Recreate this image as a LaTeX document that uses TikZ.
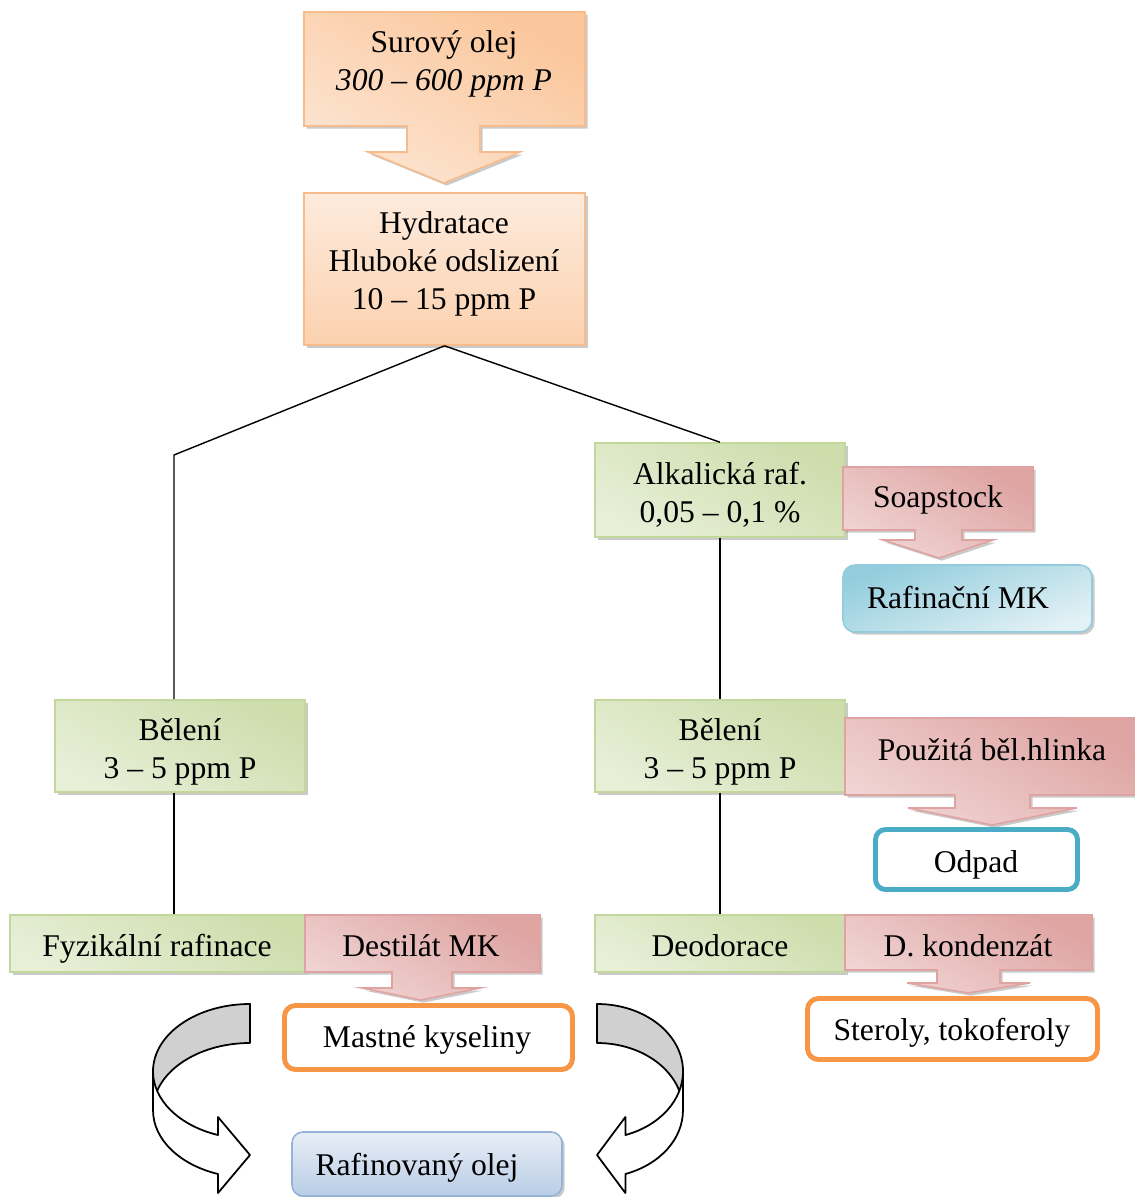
\documentclass[tikz,border=0pt]{standalone}
\usepackage{fontspec}
\setmainfont{Liberation Serif}
\usetikzlibrary{shadows}

\definecolor{peachD}{HTML}{FAC090}
\definecolor{peachL}{HTML}{FDEBDD}
\definecolor{peachB}{HTML}{F8BC8C}
\definecolor{greenD}{HTML}{C3D69B}
\definecolor{greenL}{HTML}{EDF3E1}
\definecolor{greenB}{HTML}{C3D69B}
\definecolor{redD}{HTML}{D99694}
\definecolor{redL}{HTML}{F4E0DF}
\definecolor{redB}{HTML}{DFA3A1}
\definecolor{aquaD}{HTML}{93CDDD}
\definecolor{aquaL}{HTML}{E2F1F5}
\definecolor{aquaB}{HTML}{93CDDD}
\definecolor{tealB}{HTML}{4BACC6}
\definecolor{orangeB}{HTML}{F79646}
\definecolor{steelD}{HTML}{B9CDE5}
\definecolor{steelL}{HTML}{E8EEF7}
\definecolor{steelB}{HTML}{95B3D7}
\definecolor{bandgray}{HTML}{D0D0D0}

% curved "turn" arrow: #1 x of the band end, #2 mirror factor, #3 horizontal radius
\newcommand\turnarrow[3]{%
  \begin{scope}[shift={(#1,0)}, xscale=#2]
    \filldraw[band, fill=bandgray]
      (0,1004) arc[start angle=-90, end angle=-180, x radius=#3, y radius=67.4]
      -- ++(0,39)
      arc[start angle=180, end angle=270, x radius=#3, y radius=67.4] -- cycle;
    \filldraw[band, fill=white]
      (-#3,1071.4) arc[start angle=180, end angle=109.3, x radius=#3, y radius=67.4]
      -- ({-0.33*#3},1117) -- (0,1155) -- ({-0.33*#3},1193) -- ({-0.33*#3},1174)
      arc[start angle=109.3, end angle=180, x radius=#3, y radius=67.4] -- cycle;
  \end{scope}}

\begin{document}
\begin{tikzpicture}[x=0.02cm, y=-0.02cm,
  txt/.style={align=center, inner sep=0pt, yshift=-2pt, font=\fontsize{18}{21.6}\selectfont},
  one/.style={txt, text height=12.5pt, text depth=4pt},
  span/.style 2 args={minimum width=#1*0.02cm, minimum height=#2*0.02cm, inner sep=0pt},
  boxshadow/.style={drop shadow={shadow xshift=1.5pt, shadow yshift=-1.5pt, fill=black!60, opacity=0.35}},
  peachbox/.style={draw=peachB, line width=0.9pt, top color=peachL, bottom color=peachD!60!peachL, boxshadow},
  peachcall/.style={draw=peachB, line width=0.9pt, top color=peachD!85!peachL, middle color=peachL, bottom color=peachL!85!peachD, shading angle=-30, boxshadow},
  greenbox/.style={draw=greenB, line width=0.9pt, top color=greenD!75!greenL, middle color=greenL, bottom color=greenL!85!greenD, shading angle=-30, boxshadow},
  redcall/.style={draw=redB, line width=0.9pt, top color=redD!80!redL, middle color=redL, bottom color=redL!85!redD, shading angle=-30, boxshadow},
  aquabox/.style={draw=aquaB, line width=0.9pt, rounded corners=0.24cm, top color=aquaD, bottom color=aquaL, shading angle=20, boxshadow},
  steelbox/.style={draw=steelB, line width=0.9pt, rounded corners=0.22cm, top color=steelL, bottom color=steelD, boxshadow},
  tealbox/.style={draw=tealB, line width=2.8pt, rounded corners=0.2cm, fill=white},
  orangebox/.style={draw=orangeB, line width=2.8pt, rounded corners=0.22cm, fill=white},
  band/.style={draw=black, line width=1pt, line join=round},
  link/.style={draw=black, line width=0.8pt}]

\useasboundingbox (0,0) rectangle (1135,1197);

% process boxes
\node[peachbox, span={281}{152}] (hyd) at (444.5,269) {};
\node[greenbox, span={250}{94}] (alk) at (720,490) {};
\node[greenbox, span={250}{92}] (bel1) at (180,746) {};
\node[greenbox, span={250}{92}] (bel2) at (720,746) {};
\node[greenbox, span={295}{57}] (fyz) at (157.5,943.5) {};
\node[greenbox, span={250}{57}] (deo) at (720,943.5) {};

% by-product callouts
\draw[peachcall] (304,12) -- (585,12) -- (585,126) -- (480,126) -- (480,152) -- (520,152)
  -- (444,183) -- (368,152) -- (407,152) -- (407,126) -- (304,126) -- cycle;
\draw[redcall] (843,467) -- (1033,467) -- (1033,530) -- (962,530) -- (962,540) -- (993,540)
  -- (939,558) -- (883,540) -- (915,540) -- (915,530) -- (843,530) -- cycle;
\draw[redcall] (845,718) -- (1137,718) -- (1137,795) -- (1030,795) -- (1030,808) -- (1077,808)
  -- (992,825) -- (908,808) -- (955,808) -- (955,795) -- (845,795) -- cycle;
\draw[redcall] (305,915) -- (540,915) -- (540,972) -- (452,972) -- (452,988) -- (480,988)
  -- (421,1000) -- (362,988) -- (392,988) -- (392,972) -- (305,972) -- cycle;
\draw[redcall] (845,915) -- (1092,915) -- (1092,970) -- (1000,970) -- (1000,983) -- (1030,983)
  -- (968,993) -- (907,983) -- (937,983) -- (937,970) -- (845,970) -- cycle;

% product boxes
\node[aquabox, span={249}{67}] (rafmk) at (967.5,598.5) {};
\node[tealbox, span={202}{60}] (odpad) at (976.5,859.5) {};
\node[orangebox, span={288}{64}] (mast) at (428.5,1037.5) {};
\node[orangebox, span={290}{61}] (ster) at (952.5,1029) {};
\node[steelbox, span={270}{64}] (oil) at (427,1164) {};

% texts
\node[txt] (sur-t) at (444,60) {Surový olej\\\textit{300 -- 600 ppm P}};
\node[txt] (hyd-t) at (444,260) {Hydratace\\Hluboké odslizení\\10 -- 15 ppm P};
\node[txt] (alk-t) at (720,491) {Alkalická raf.\\0,05 -- 0,1 \%};
\node[one] (soap-t) at (938,497) {Soapstock};
\node[one] (rafmk-t) at (958,598) {Rafinační MK};
\node[txt] (bel1-t) at (180,748) {Bělení\\3 -- 5 ppm P};
\node[txt] (bel2-t) at (720,748) {Bělení\\3 -- 5 ppm P};
\node[one] (pouz-t) at (992,750) {Použitá běl.hlinka};
\node[one] (odpad-t) at (976,862) {Odpad};
\node[one] (fyz-t) at (157,946) {Fyzikální rafinace};
\node[one] (dest-t) at (421,946) {Destilát MK};
\node[one] (deo-t) at (720,946) {Deodorace};
\node[one] (dkon-t) at (968,946) {D. kondenzát};
\node[one] (mast-t) at (427,1037) {Mastné kyseliny};
\node[one] (ster-t) at (952,1030) {Steroly, tokoferoly};
\node[one] (oil-t) at (417,1165) {Rafinovaný olej};

% branch connectors
\coordinate (kneeL) at (174,455);
\draw[link] (hyd.south) -- (kneeL) -- (kneeL |- bel1.north);
\draw[link] (hyd.south) -- (alk.north);
\draw[link] (alk.south) -- (bel2.north);
\draw[link] (kneeL |- bel1.south) -- (kneeL |- fyz.north);
\draw[link] (bel2.south) -- (deo.north);

% turn arrows towards the refined oil
\turnarrow{250}{1}{97}
\turnarrow{597}{-1}{86}

\end{tikzpicture}
\end{document}
